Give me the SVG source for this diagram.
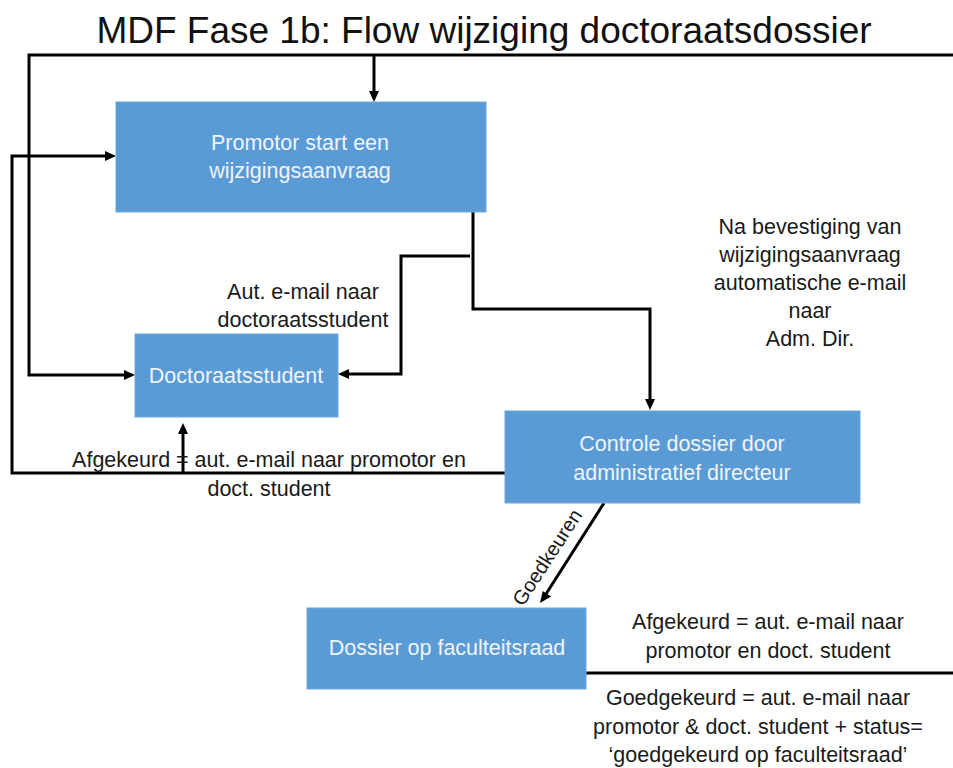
<svg xmlns="http://www.w3.org/2000/svg" width="953" height="768" viewBox="0 0 953 768">
<defs>
<style>
.box{fill:#5b9bd5;stroke:#6fa8dc;stroke-width:1}
.bt{font-family:"Liberation Sans",Arial,sans-serif;font-size:21.5px;fill:#eef4fb;text-anchor:middle}
.lt{font-family:"Liberation Sans",Arial,sans-serif;font-size:21.5px;fill:#1a1a1a;text-anchor:middle}
.ln{fill:none;stroke:#000;stroke-width:3}
</style>
</defs>
<rect width="953" height="768" fill="#fff"/>
<text x="484" y="43" font-family="'Liberation Sans',Arial,sans-serif" font-size="37" fill="#111" text-anchor="middle">MDF Fase 1b: Flow wijziging doctoraatsdossier</text>

<g id="connectors">
<path class="ln" d="M953,55 H29 V375 H126"/>
<polygon points="135,375 124,370 124,380" fill="#000"/>
<path class="ln" d="M374,55 V92"/>
<polygon points="374,102 369,91 379,91" fill="#000"/>
<path class="ln" d="M505,473 H12 V156 H107"/>
<polygon points="116,156 105,151 105,161" fill="#000"/>
<path class="ln" d="M183,473 V433"/>
<polygon points="183,423 178,434 188,434" fill="#000"/>
<path class="ln" d="M473,212 V309 H650 V400"/>
<polygon points="650,410 645,399 655,399" fill="#000"/>
<path class="ln" d="M470,256 H401 V374 H347"/>
<polygon points="338,374 349,369 349,379" fill="#000"/>
<path class="ln" d="M604,503 L546,594"/>
<polygon points="540,603 542.7,591 551.1,596.4" fill="#000"/>
<path class="ln" d="M586,673 H953"/>
</g>

<g id="promotor">
<rect class="box" x="116" y="102" width="370" height="110"/>
<text class="bt" x="300" y="150">Promotor start een</text>
<text class="bt" x="300" y="178">wijzigingsaanvraag</text>
</g>

<g id="doctoraatsstudent">
<rect class="box" x="135" y="334" width="203" height="83"/>
<text class="bt" x="236" y="383">Doctoraatsstudent</text>
</g>

<g id="controle">
<rect class="box" x="505" y="411" width="355" height="92"/>
<text class="bt" x="682" y="451">Controle dossier door</text>
<text class="bt" x="682" y="480">administratief directeur</text>
</g>

<g id="dossier">
<rect class="box" x="307" y="608" width="279" height="81"/>
<text class="bt" x="447" y="655">Dossier op faculteitsraad</text>
</g>

<g id="labels">
<text class="lt" x="303" y="299">Aut. e-mail naar</text>
<text class="lt" x="303" y="327">doctoraatsstudent</text>
<text class="lt" x="810" y="234">Na bevestiging van</text>
<text class="lt" x="810" y="262">wijzigingsaanvraag</text>
<text class="lt" x="810" y="290">automatische e-mail</text>
<text class="lt" x="810" y="318">naar</text>
<text class="lt" x="810" y="346">Adm. Dir.</text>
<text class="lt" x="269" y="467">Afgekeurd = aut. e-mail naar promotor en</text>
<text class="lt" x="269" y="496">doct. student</text>
<text class="lt" style="font-size:20px" transform="translate(553,561) rotate(-57)" x="0" y="0">Goedkeuren</text>
<text class="lt" x="768" y="629">Afgekeurd = aut. e-mail naar</text>
<text class="lt" x="768" y="658">promotor en doct. student</text>
<text class="lt" x="758" y="705">Goedgekeurd = aut. e-mail naar</text>
<text class="lt" x="758" y="734">promotor &amp; doct. student + status=</text>
<text class="lt" x="758" y="762">‘goedgekeurd op faculteitsraad’</text>
</g>
</svg>
